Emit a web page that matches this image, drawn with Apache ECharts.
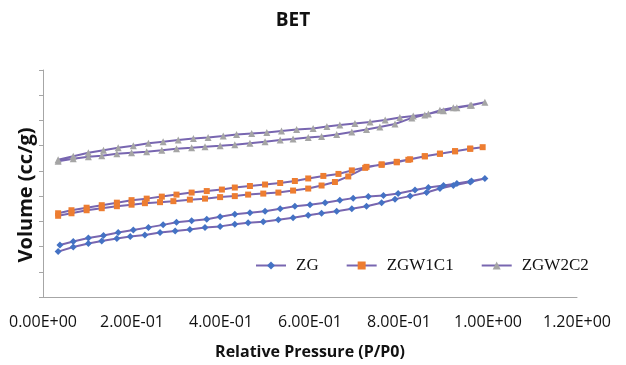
<!DOCTYPE html>
<html>
<head>
<meta charset="utf-8">
<script src="https://cdn.jsdelivr.net/npm/echarts@6/dist/echarts.min.js"></script>
<style>html,body{margin:0;padding:0;background:#fff}#c{width:626px;height:365px}</style>
</head>
<body>
<div id="c"></div>
<script>
var seriesNames = ['ZG', 'ZGW1C1', 'ZGW2C2'];
var xTickLabels = ['0.00E+00', '2.00E-01', '4.00E-01', '6.00E-01', '8.00E-01', '1.00E+00', '1.20E+00'];

var zgP = [0.034,0.068,0.102,0.132,0.166,0.196,0.229,0.263,0.297,0.330,0.364,0.398,0.431,0.461,0.495,0.529,0.562,0.596,0.626,0.660,0.694,0.727,0.761,0.791,0.825,0.862,0.892,0.922,0.960,0.993,
           0.963,0.930,0.900,0.866,0.836,0.798,0.765,0.731,0.697,0.667,0.634,0.600,0.566,0.533,0.499,0.465,0.431,0.398,0.368,0.334,0.300,0.270,0.237,0.203,0.169,0.136,0.102,0.068,0.038];
var zgV = [90,99,106,111,116,120,123,128,131,134,138,140,144,147,149,153,157,162,166,170,175,180,187,194,200,207,215,221,228,235,
           230,225,221,217,212,205,201,199,196,192,187,183,180,175,170,167,164,159,154,151,148,143,138,133,128,122,117,110,103];

var w1P = [0.034,0.064,0.098,0.132,0.166,0.199,0.229,0.263,0.293,0.330,0.364,0.398,0.431,0.461,0.495,0.529,0.562,0.596,0.626,0.656,0.686,0.724,0.761,0.795,0.825,0.858,0.892,0.926,0.960,0.988,
           0.960,0.926,0.892,0.858,0.821,0.795,0.761,0.727,0.694,0.664,0.630,0.596,0.566,0.533,0.499,0.465,0.431,0.402,0.368,0.334,0.300,0.267,0.233,0.199,0.166,0.132,0.098,0.064,0.034];
var w1V = [161,166,172,176,180,183,186,188,190,193,195,198,200,203,205,207,211,215,221,228,239,256,263,268,273,279,284,289,294,297,
           294,289,284,279,272,267,262,258,251,244,240,235,230,226,223,220,217,213,210,207,203,199,195,192,187,182,177,172,166];

var w2P = [0.034,0.068,0.102,0.132,0.166,0.199,0.233,0.267,0.300,0.334,0.364,0.398,0.431,0.465,0.499,0.533,0.562,0.596,0.626,0.660,0.694,0.727,0.757,0.791,0.829,0.858,0.892,0.922,0.960,0.993,
           0.963,0.930,0.900,0.866,0.832,0.802,0.769,0.735,0.701,0.667,0.638,0.607,0.570,0.536,0.503,0.469,0.435,0.405,0.371,0.338,0.304,0.270,0.237,0.203,0.169,0.136,0.102,0.068,0.034];
var w2V = [269,274,278,280,284,286,288,291,294,296,298,300,302,305,308,311,313,316,318,322,327,332,337,343,355,361,370,375,380,386,
           380,375,369,363,359,356,351,347,344,341,338,334,332,329,326,324,322,319,316,314,311,308,305,300,296,291,286,279,272];

function pairs(p, v) { return p.map(function (x, i) { return [x, v[i]]; }); }

var lineColor = '#7866b0';
var markerColors = ['#4472c4', '#ed7d31', '#a5a5a5'];
var symbols = ['diamond', 'rect', 'triangle'];
var symbolSizes = [7, 6, 7];
var dataSets = [pairs(zgP, zgV), pairs(w1P, w1V), pairs(w2P, w2V)];

var chart = echarts.init(document.getElementById('c'), null, {renderer: 'canvas'});
chart.setOption({
  animation: false,
  backgroundColor: '#fff',
  title: {
    text: 'BET', left: 288, top: 6, textAlign: 'center',
    textStyle: {fontFamily: 'Open Sans', fontWeight: 'bold', fontSize: 19, color: '#111'}
  },
  graphic: [{
    type: 'text', x: 26, y: 195, rotation: Math.PI / 2,
    style: {text: 'Volume (cc/g)', fontFamily: 'Open Sans', fontWeight: 'bold', fontSize: 20,
            fill: '#111', textAlign: 'center', textVerticalAlign: 'middle'}
  }],
  grid: {left: 43, right: 49, top: 70, bottom: 67},
  legend: {
    left: 255, top: 257, padding: 0, itemWidth: 30, itemHeight: 10, itemGap: 27,
    textStyle: {fontFamily: 'Liberation Serif', fontSize: 17, color: '#111', padding: [0, 0, 0, 5]},
    data: seriesNames
  },
  xAxis: {
    type: 'value', min: 0, max: 1.2, interval: 0.2,
    name: 'Relative Pressure (P/P0)', nameLocation: 'middle', nameGap: 47,
    nameTextStyle: {fontFamily: 'Open Sans', fontWeight: 'bold', fontSize: 16, color: '#111'},
    axisLine: {lineStyle: {color: '#a6a6a6', width: 1}},
    axisTick: {show: false},
    splitLine: {show: false},
    axisLabel: {
      margin: 17, fontFamily: 'Open Sans', fontSize: 16, color: '#111',
      formatter: function (v) { return xTickLabels[Math.round(v / 0.2)]; }
    }
  },
  yAxis: {
    type: 'value', min: 0, max: 450, interval: 50,
    axisLine: {show: true, lineStyle: {color: '#a6a6a6', width: 1}},
    axisTick: {show: true, length: 4, lineStyle: {color: '#a6a6a6'}},
    axisLabel: {show: false},
    splitLine: {show: false}
  },
  series: seriesNames.map(function (n, i) {
    return {
      name: n, type: 'line', data: dataSets[i],
      symbol: symbols[i], symbolSize: symbolSizes[i],
      lineStyle: {color: lineColor, width: 2},
      itemStyle: {color: markerColors[i]},
      showSymbol: true
    };
  })
});
</script>
</body>
</html>
